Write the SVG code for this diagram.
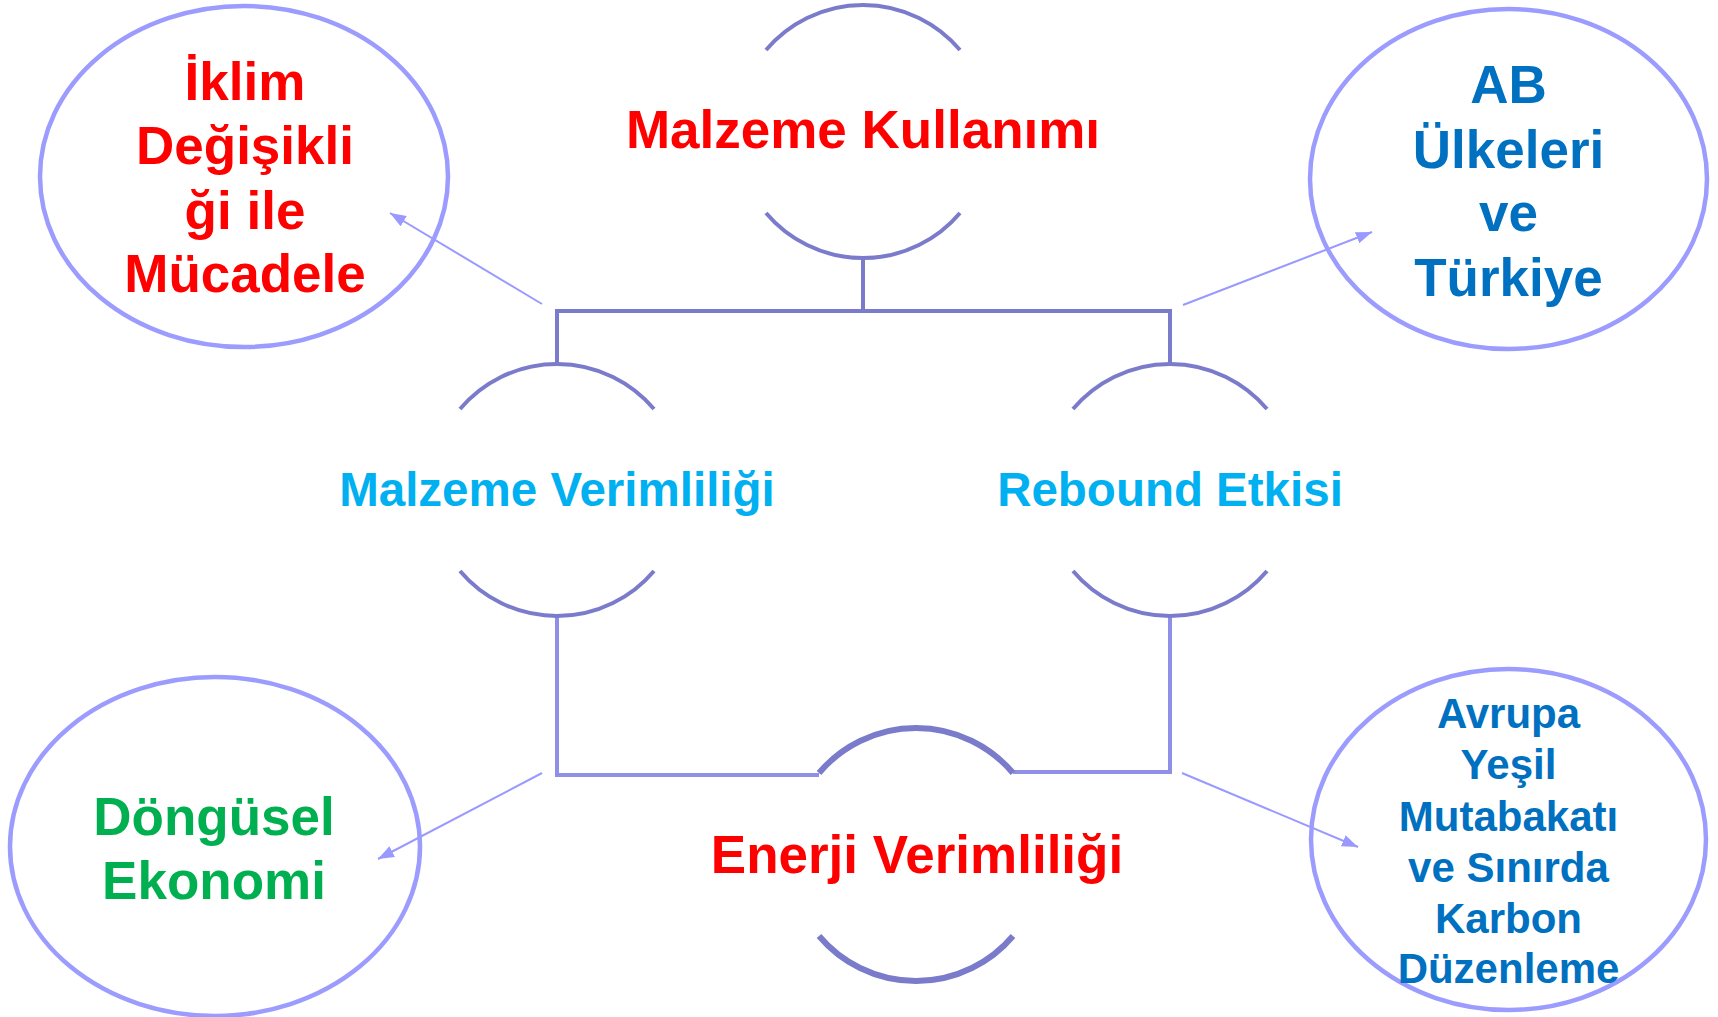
<svg xmlns="http://www.w3.org/2000/svg" width="1718" height="1017" viewBox="0 0 1718 1017">
<style>
text{font-family:"Liberation Sans",Arial,sans-serif;font-weight:bold;text-anchor:middle}
.ell{fill:none;stroke:#9C9CFF;stroke-width:4.5}
.arc{fill:none;stroke:#7B7BCC;stroke-width:4}
.arcw{fill:none;stroke:#7B7BCC;stroke-width:6}
.red{fill:#FF0000;font-size:53px}
.blue{fill:#0070C0;font-size:53px}
.blue2{fill:#0070C0;font-size:42px}
.green{fill:#00B050;font-size:53px}
.cyan{fill:#00B0F0;font-size:47.5px}
.tree{fill:none;stroke:#7B7BCC;stroke-width:4}
.tree2{fill:none;stroke:#8F8FE8;stroke-width:4}
.arr{stroke:#9999FF;stroke-width:2;marker-end:url(#ah)}
</style>
<defs>
<marker id="ah" markerUnits="userSpaceOnUse" markerWidth="18" markerHeight="14" refX="16" refY="6" orient="auto">
<path d="M0,0 L16,6 L0,12 z" fill="#9999FF"/>
</marker>
</defs>
<rect width="1718" height="1017" fill="#FFFFFF"/>
<g id="connectors">
<path class="tree" d="M863 258 V311 M555 311 H1172 M557 311 V363 M1170 311 V363"/>
<path class="tree2" d="M557 617 V775 H819 M1013 772 H1170 V617"/>
<line class="arr" x1="542" y1="304" x2="390" y2="213"/>
<line class="arr" x1="1183" y1="305" x2="1372" y2="232"/>
<line class="arr" x1="542" y1="773" x2="378" y2="859"/>
<line class="arr" x1="1182" y1="773" x2="1358" y2="847"/>
</g>
<g id="n-iklim">
<ellipse class="ell" cx="244" cy="176.5" rx="204" ry="170.5"/>
<text class="red" x="245" y="100">İklim</text>
<text class="red" x="245" y="164">Değişikli</text>
<text class="red" x="245" y="229">ği ile</text>
<text class="red" x="245" y="292">Mücadele</text>
</g>
<g id="n-ab">
<ellipse class="ell" cx="1508.5" cy="179" rx="198.5" ry="170"/>
<text class="blue" x="1508.5" y="103">AB</text>
<text class="blue" x="1508.5" y="168">Ülkeleri</text>
<text class="blue" x="1508.5" y="231">ve</text>
<text class="blue" x="1508.5" y="296">Türkiye</text>
</g>
<g id="n-dongusel">
<ellipse class="ell" cx="215" cy="846.5" rx="205" ry="169.5"/>
<text class="green" x="214" y="835">Döngüsel</text>
<text class="green" x="214" y="899">Ekonomi</text>
</g>
<g id="n-avrupa">
<ellipse class="ell" cx="1508.5" cy="839.5" rx="197.5" ry="170.5"/>
<text class="blue2" x="1508.5" y="728">Avrupa</text>
<text class="blue2" x="1508.5" y="779">Yeşil</text>
<text class="blue2" x="1508.5" y="831">Mutabakatı</text>
<text class="blue2" x="1508.5" y="882">ve Sınırda</text>
<text class="blue2" x="1508.5" y="933">Karbon</text>
<text class="blue2" x="1508.5" y="983">Düzenleme</text>
</g>
<g id="n-malzeme-kullanimi">
<path class="arc" d="M766 50 A127 127 0 0 1 960 50 M766 213 A127 127 0 0 0 960 213"/>
<text class="red" x="863" y="148">Malzeme Kullanımı</text>
</g>
<g id="n-malzeme-verimliligi">
<path class="arc" d="M460 409 A127 127 0 0 1 654 409 M460 571 A127 127 0 0 0 654 571"/>
<text class="cyan" x="557" y="506">Malzeme Verimliliği</text>
</g>
<g id="n-rebound">
<path class="arc" d="M1073 409 A127 127 0 0 1 1267 409 M1073 571 A127 127 0 0 0 1267 571"/>
<text class="cyan" x="1170" y="506">Rebound Etkisi</text>
</g>
<g id="n-enerji">
<path class="arcw" d="M819 773 A127 127 0 0 1 1013 773 M819 936 A127 127 0 0 0 1013 936"/>
<text class="red" x="917" y="873">Enerji Verimliliği</text>
</g>
</svg>
